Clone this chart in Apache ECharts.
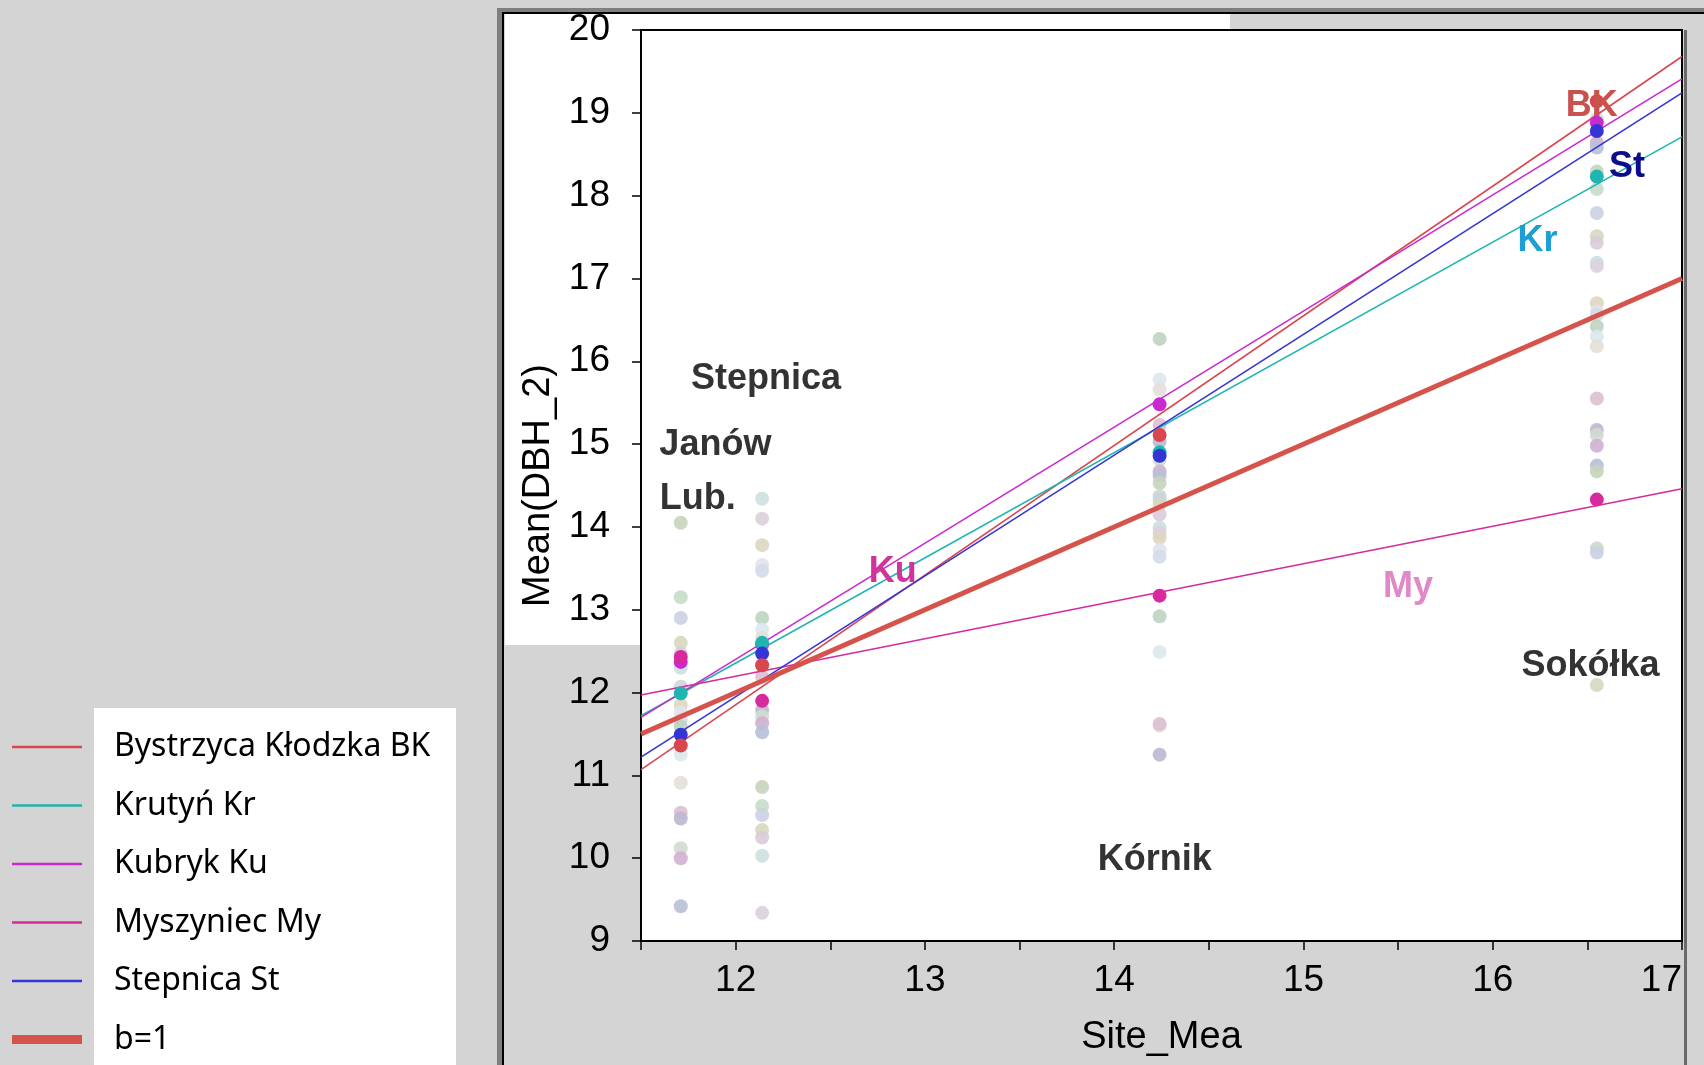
<!DOCTYPE html>
<html>
<head>
<meta charset="utf-8">
<script src="https://cdn.jsdelivr.net/npm/echarts@6/dist/echarts.min.js"></script>
<style>
  html, body { margin: 0; padding: 0; background: #d4d4d4; }
  #charts { width: 1704px; height: 1065px; }
</style>
</head>
<body>
<div id="charts"></div>
<script>
// site means (x) for the four sites
const xSites = [11.71, 12.14, 14.24, 16.55]
const xEnds = [11.5, 17]

// faded tree/plot means per site
const bgSite1 = [14.05, 13.15, 12.9, 12.6, 12.47, 12.3, 12.07, 11.85, 11.76, 11.67, 11.59, 11.25, 10.91, 10.55, 10.48, 10.12, 10.0, 9.42]
const bgSite2 = [14.34, 14.1, 13.78, 13.54, 13.47, 12.9, 12.76, 12.66, 12.19, 11.79, 11.71, 11.63, 11.52, 10.86, 10.63, 10.52, 10.34, 10.25, 10.03, 9.34]
const bgSite3 = [16.27, 15.78, 15.66, 15.23, 15.03, 14.81, 14.67, 14.62, 14.53, 14.37, 14.33, 14.27, 14.15, 13.99, 13.93, 13.87, 13.72, 13.64, 12.92, 12.49, 11.6, 11.62, 11.25]
const bgSite4 = [18.92, 18.64, 18.58, 18.29, 18.08, 17.79, 17.51, 17.43, 17.19, 17.15, 16.7, 16.6, 16.56, 16.42, 16.3, 16.18, 15.55, 15.17, 15.11, 14.98, 14.74, 14.67, 13.74, 13.69, 12.09]

// highlighted provenances (one value per site)
const bkPts = [11.36, 12.33, 15.11, 19.14]
const krPts = [11.99, 12.6, 14.9, 18.23]
const kuPts = [12.37, 12.58, 15.48, 18.88]
const myPts = [12.43, 11.9, 13.17, 14.33]
const stPts = [11.49, 12.47, 14.86, 18.78]

// regression lines, y at x = 11.5 and x = 17
const bkLine = [11.07, 19.68]
const krLine = [11.72, 18.71]
const kuLine = [11.7, 19.41]
const myLine = [11.97, 14.46]
const stLine = [11.22, 19.24]
const oneLine = [11.5, 17]

// text notes inside the plot
const noteText = ['Stepnica', 'Janów', 'Lub.', 'Kórnik', 'Sokółka', 'BK', 'St', 'Kr', 'Ku', 'My']
const noteX = [12.16, 11.893, 11.8, 14.215, 16.517, 16.523, 16.71, 16.236, 12.83, 15.553]
const noteY = [15.79, 14.99, 14.34, 9.98, 12.32, 19.08, 18.35, 17.45, 13.46, 13.27]

// styles
const noteColors = ['#333', '#333', '#333', '#333', '#333', '#c9514e', '#0b0b8e', '#1d9fd3', '#d0339a', '#e088c8']
const paleColors = ['#c8d4bc', '#c8dcc8', '#ccd2e4', '#d6d8bc', '#d8ccd8', '#cce0e0', '#dcd0dc', '#ddd6c0', '#e2e2ec', '#d2dce8', '#bcd4c0', '#dce8ec', '#e2e0d8', '#dcc0d0', '#bab8d0', '#d0dcd0', '#d0b0d0', '#b8c0d8']
const cBK = '#d9464e'
const cKr = '#1fb5b0'
const cKu = '#c82ad0'
const cMy = '#d62a9e'
const cSt = '#3535d5'
const cOne = '#d5534b'

// legend icons: thin line / thick bar, kept in aspect inside the 70x12 box
const thinIcon = 'path://M0,0H70V2.6H0Z'
const thickIcon = 'path://M0,0H70V9H0Z'

const bgData = []
;[bgSite1, bgSite2, bgSite3, bgSite4].forEach((arr, s) => {
  arr.forEach((v, i) => {
    bgData.push({ value: [xSites[s], v], itemStyle: { color: paleColors[(i + s * 5) % paleColors.length] } })
  })
})

const pts = (arr) => arr.map((v, i) => [xSites[i], v])
const line = (arr) => arr.map((v, i) => [xEnds[i], v])

const lineSeries = (name, data, color, width) => ({
  name,
  type: 'line',
  data: line(data),
  symbol: 'none',
  z: 3,
  lineStyle: { color, width },
  itemStyle: { color },
  silent: true
})

const ptSeries = (name, data, color) => ({
  name,
  type: 'scatter',
  data: pts(data),
  symbolSize: 14,
  z: 4,
  itemStyle: { color, opacity: 1 }
})

const echart = echarts.init(document.getElementById('charts'))

const option = {
  backgroundColor: '#d4d4d4',
  animation: false,
  grid: {
    left: 641,
    top: 30,
    width: 1041,
    height: 911,
    show: true,
    backgroundColor: '#fff',
    borderColor: '#000',
    borderWidth: 2
  },
  legend: {
    orient: 'vertical',
    left: 12,
    top: 729,
    padding: 0,
    height: 400,
    itemWidth: 70,
    itemHeight: 12,
    itemGap: 22.5,
    selectedMode: false,
    textStyle: {
      fontFamily: 'Noto Sans',
      fontSize: 32,
      color: '#000',
      lineHeight: 36,
      padding: [0, 0, 0, 27]
    },
    data: [
      { name: 'Bystrzyca Kłodzka BK', icon: thinIcon },
      { name: 'Krutyń Kr', icon: thinIcon },
      { name: 'Kubryk Ku', icon: thinIcon },
      { name: 'Myszyniec My', icon: thinIcon },
      { name: 'Stepnica St', icon: thinIcon },
      { name: 'b=1', icon: thickIcon }
    ]
  },
  xAxis: {
    type: 'value',
    min: 11.5,
    max: 17,
    interval: 0.5,
    name: 'Site_Mea',
    nameLocation: 'middle',
    nameGap: 78,
    nameTextStyle: { fontFamily: 'Liberation Sans', fontSize: 38, color: '#000' },
    splitLine: { show: false },
    axisLine: { lineStyle: { color: '#000', width: 2 } },
    axisTick: { length: 9, lineStyle: { color: '#000', width: 1.5 } },
    axisLabel: {
      margin: 21,
      fontFamily: 'Liberation Sans',
      fontSize: 37,
      color: '#000',
      alignMaxLabel: 'right',
      formatter: (v) => (Number.isInteger(v) ? String(v) : '')
    }
  },
  yAxis: {
    type: 'value',
    min: 9,
    max: 20,
    interval: 1,
    name: 'Mean(DBH_2)',
    nameLocation: 'middle',
    nameGap: 82,
    nameTextStyle: { fontFamily: 'Liberation Sans', fontSize: 38, color: '#000' },
    splitLine: { show: false },
    axisLine: { lineStyle: { color: '#000', width: 2 } },
    axisTick: { length: 9, lineStyle: { color: '#000', width: 1.5 } },
    axisLabel: {
      margin: 31,
      fontFamily: 'Liberation Sans',
      fontSize: 37,
      color: '#000',
      padding: [6, 0, 0, 0]
    }
  },
  graphic: [
    // white panels behind the upper y labels
    { type: 'rect', z: -10, shape: { x: 505, y: 13, width: 725, height: 18 }, style: { fill: '#fff' } },
    { type: 'rect', z: -10, shape: { x: 505, y: 13, width: 136, height: 632 }, style: { fill: '#fff' } },
    // legend panel
    { type: 'rect', z: -10, shape: { x: 94, y: 708, width: 362, height: 360 }, style: { fill: '#fff' } },
    // frame
    { type: 'rect', z: -5, shape: { x: 497, y: 8, width: 5, height: 1060 }, style: { fill: '#7f7f7f' } },
    { type: 'rect', z: -5, shape: { x: 497, y: 8, width: 1210, height: 5 }, style: { fill: '#7f7f7f' } },
    { type: 'rect', z: -5, shape: { x: 502, y: 12, width: 2, height: 1060 }, style: { fill: '#000' } },
    { type: 'rect', z: -5, shape: { x: 502, y: 12, width: 1210, height: 2 }, style: { fill: '#000' } },
    { type: 'rect', z: -5, shape: { x: 1684, y: 30, width: 3, height: 1040 }, style: { fill: '#6a6a6a' } }
  ],
  series: [
    {
      name: 'all',
      type: 'scatter',
      data: bgData,
      symbolSize: 14,
      z: 2,
      silent: true,
      itemStyle: { opacity: 0.9 }
    },
    lineSeries('Bystrzyca Kłodzka BK', bkLine, cBK, 1.6),
    lineSeries('Krutyń Kr', krLine, cKr, 1.6),
    lineSeries('Kubryk Ku', kuLine, cKu, 1.6),
    lineSeries('Myszyniec My', myLine, cMy, 1.6),
    lineSeries('Stepnica St', stLine, cSt, 1.6),
    lineSeries('b=1', oneLine, cOne, 5),
    ptSeries('Ku pts', kuPts, cKu),
    ptSeries('Kr pts', krPts, cKr),
    ptSeries('My pts', myPts, cMy),
    ptSeries('St pts', stPts, cSt),
    ptSeries('BK pts', bkPts, cBK),
    {
      name: 'notes',
      type: 'scatter',
      symbolSize: 0,
      z: 6,
      silent: true,
      itemStyle: { opacity: 1 },
      data: noteText.map((t, i) => ({
        value: [noteX[i], noteY[i], t],
        label: { color: noteColors[i] }
      })),
      label: {
        show: true,
        position: 'inside',
        formatter: (p) => p.value[2],
        fontFamily: 'Liberation Sans',
        fontWeight: 'bold',
        fontSize: 36
      }
    }
  ]
}
echart.setOption(option)
</script>
</body>
</html>
